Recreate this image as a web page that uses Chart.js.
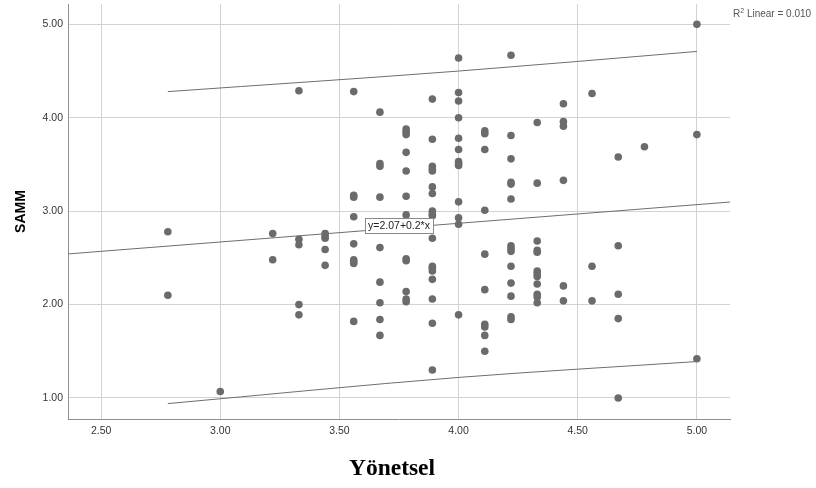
<!DOCTYPE html>
<html>
<head>
<meta charset="utf-8">
<script src="https://cdn.jsdelivr.net/npm/chart.js@4"></script>
<style>
  html, body { margin: 0; padding: 0; background: #ffffff; }
  #wrap { width: 816px; height: 488px; }
</style>
</head>
<body>
<div id="wrap"><canvas id="c" width="816" height="488"></canvas></div>
<script>
// Yönetsel score levels (x) and the SAMM scores observed at each level
const yonetselLevels = [2.78, 3.00, 3.22, 3.33, 3.44, 3.56, 3.67, 3.78, 3.89, 4.00, 4.11, 4.22, 4.33, 4.44, 4.56, 4.67, 4.78, 5.00];
const sammByLevel = [
  [2.78, 2.10],
  [1.07],
  [2.76, 2.48],
  [4.29, 2.70, 2.64, 2.00, 1.89],
  [2.76, 2.73, 2.71, 2.59, 2.42],
  [4.28, 3.17, 3.15, 2.94, 2.65, 2.48, 2.46, 2.44, 1.82],
  [4.06, 3.51, 3.48, 3.15, 2.61, 2.24, 2.02, 1.84, 1.67],
  [3.88, 3.85, 3.82, 3.63, 3.43, 3.16, 2.96, 2.49, 2.47, 2.14, 2.06, 2.03],
  [4.20, 3.77, 3.48, 3.45, 3.43, 3.26, 3.19, 3.00, 2.97, 2.95, 2.71, 2.41, 2.39, 2.36, 2.27, 2.06, 1.80, 1.30],
  [4.64, 4.27, 4.18, 4.00, 3.78, 3.66, 3.53, 3.51, 3.49, 3.10, 2.93, 2.86, 1.89],
  [3.86, 3.83, 3.66, 3.01, 2.54, 2.16, 1.79, 1.76, 1.67, 1.50],
  [4.67, 3.81, 3.56, 3.31, 3.29, 3.13, 2.63, 2.60, 2.57, 2.41, 2.23, 2.09, 1.87, 1.84],
  [3.95, 3.30, 2.68, 2.58, 2.56, 2.36, 2.33, 2.30, 2.22, 2.11, 2.08, 2.02],
  [4.15, 3.96, 3.91, 3.33, 2.20, 2.04],
  [4.26, 2.41, 2.04],
  [3.58, 2.63, 2.11, 1.85, 1.00],
  [3.69],
  [5.00, 3.82, 1.42]
];

// Linear fit: SAMM = 2.07 + 0.2 * Yönetsel
const fitIntercept = 2.07;
const fitSlope = 0.2;
const fitLabel = 'y=2.07+0.2*x';
const fitLabelX = 3.75;
const rSquaredText = '0.010';
const xTitle = 'Yönetsel';

// 95% prediction interval bounds
const intervalX = [2.78, 4.00, 5.00];
const intervalUpper = [4.28, 4.50, 4.71];
const intervalLower = [0.94, 1.22, 1.39];

// Axis ranges and ticks
const xRange = [2.361, 5.139];
const yRange = [0.775, 5.218];
const xTicks = [2.5, 3.0, 3.5, 4.0, 4.5, 5.0];
const yTicks = [1, 2, 3, 4, 5];

const points = [];
yonetselLevels.forEach((x, i) => sammByLevel[i].forEach(y => points.push({ x: x, y: y })));
const fitLine = xRange.map(x => ({ x: x, y: fitIntercept + fitSlope * x }));
const upperLine = intervalX.map((x, i) => ({ x: x, y: intervalUpper[i] }));
const lowerLine = intervalX.map((x, i) => ({ x: x, y: intervalLower[i] }));

const sansFont = '"Liberation Sans", Arial, Helvetica, sans-serif';
const serifFont = '"Liberation Serif", "Times New Roman", serif';

// Draws the fit equation box, the R² note and the x-axis title
const annotations = {
  id: 'annotations',
  afterDatasetsDraw(chart) {
    const { ctx, scales } = chart;
    ctx.save();
    // equation label
    ctx.font = '10.5px ' + sansFont;
    const cx = scales.x.getPixelForValue(fitLabelX);
    const cy = scales.y.getPixelForValue(fitIntercept + fitSlope * fitLabelX) - 2;
    const tw = ctx.measureText(fitLabel).width;
    const bw = Math.round(tw + 6), bh = 15;
    const bx = Math.round(cx - bw / 2) + 0.5, by = Math.round(cy - bh / 2) + 0.5;
    ctx.fillStyle = '#ffffff';
    ctx.fillRect(bx, by, bw, bh);
    ctx.strokeStyle = '#8a8a8a';
    ctx.lineWidth = 1;
    ctx.strokeRect(bx, by, bw, bh);
    ctx.fillStyle = '#222222';
    ctx.textBaseline = 'middle';
    ctx.textAlign = 'center';
    ctx.fillText(fitLabel, cx, cy + 0.5);

    // R² Linear note
    ctx.textAlign = 'left';
    ctx.textBaseline = 'alphabetic';
    ctx.fillStyle = '#555555';
    let x = chart.chartArea.right + 3;
    const base = 17;
    ctx.font = '10px ' + sansFont;
    ctx.fillText('R', x, base);
    x += ctx.measureText('R').width;
    ctx.font = '7px ' + sansFont;
    ctx.fillText('2', x, base - 4);
    x += ctx.measureText('2').width;
    ctx.font = '10px ' + sansFont;
    ctx.fillText(' Linear = ' + rSquaredText, x, base);

    // x-axis title, set a little left of the plot centre
    ctx.font = 'bold 23.5px ' + serifFont;
    ctx.fillStyle = '#000000';
    ctx.textAlign = 'center';
    ctx.textBaseline = 'alphabetic';
    ctx.fillText(xTitle, (chart.chartArea.left + chart.chartArea.right) / 2 - 7, 475);
    ctx.restore();
  }
};

// keep the plot box fixed regardless of tick label overhang
function clearPadding(s) {
  s.paddingTop = 0; s.paddingBottom = 0; s.paddingLeft = 0; s.paddingRight = 0;
}

new Chart(document.getElementById('c'), {
  type: 'scatter',
  data: {
    datasets: [
      {
        label: 'SAMM',
        data: points,
        backgroundColor: '#6b6b6b',
        borderColor: '#6b6b6b',
        pointRadius: 3.8,
        pointBorderWidth: 0,
        order: 2
      },
      {
        label: 'Fit',
        type: 'line',
        data: fitLine,
        borderColor: '#6e6e6e',
        borderWidth: 1,
        pointRadius: 0,
        fill: false,
        order: 1
      },
      {
        label: 'Upper',
        type: 'line',
        data: upperLine,
        borderColor: '#6e6e6e',
        borderWidth: 1,
        pointRadius: 0,
        cubicInterpolationMode: 'monotone',
        fill: false,
        order: 1
      },
      {
        label: 'Lower',
        type: 'line',
        data: lowerLine,
        borderColor: '#6e6e6e',
        borderWidth: 1,
        pointRadius: 0,
        cubicInterpolationMode: 'monotone',
        fill: false,
        order: 1
      }
    ]
  },
  options: {
    responsive: false,
    devicePixelRatio: 1,
    animation: false,
    layout: { padding: { top: 4, right: 86, left: 0, bottom: 0 } },
    plugins: {
      legend: { display: false },
      tooltip: { enabled: false }
    },
    scales: {
      x: {
        type: 'linear',
        min: xRange[0],
        max: xRange[1],
        afterBuildTicks: s => { s.ticks = xTicks.map(v => ({ value: v })); },
        afterFit: s => { s.height = 69; clearPadding(s); },
        grid: { color: '#d3d3d3', lineWidth: 1, drawTicks: false },
        border: { color: '#8f8f8f', width: 1 },
        ticks: {
          padding: 6,
          color: '#333333',
          font: { family: sansFont, size: 10.5 },
          callback: v => Number(v).toFixed(2)
        },
        title: { display: false }
      },
      y: {
        type: 'linear',
        min: yRange[0],
        max: yRange[1],
        afterBuildTicks: s => { s.ticks = yTicks.map(v => ({ value: v })); },
        afterFit: s => { s.width = 68; clearPadding(s); },
        grid: { color: '#d3d3d3', lineWidth: 1, drawTicks: false },
        border: { color: '#8f8f8f', width: 1 },
        ticks: {
          padding: 5,
          color: '#333333',
          font: { family: sansFont, size: 10.5 },
          callback: v => Number(v).toFixed(2)
        },
        title: {
          display: true,
          text: 'SAMM',
          color: '#000000',
          font: { family: sansFont, size: 14, weight: 'bold' },
          padding: { top: 13, bottom: 0 }
        }
      }
    }
  },
  plugins: [annotations]
});
</script>
</body>
</html>
